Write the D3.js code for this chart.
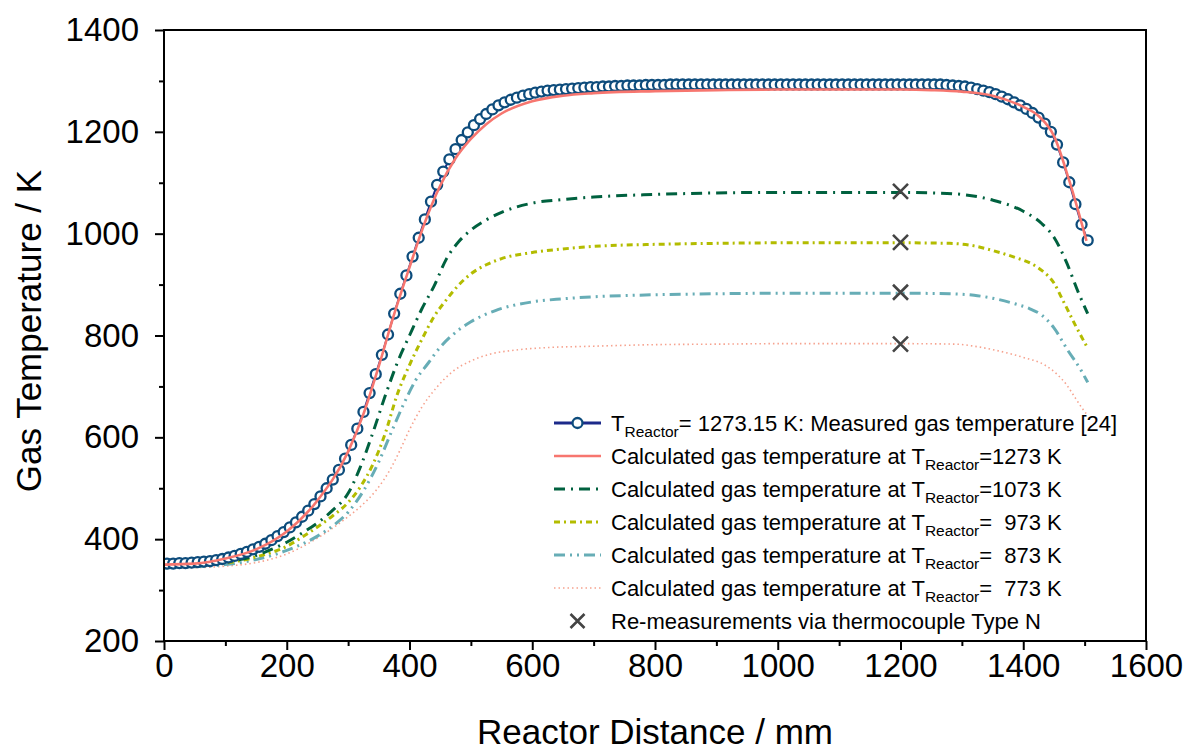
<!DOCTYPE html>
<html>
<head>
<meta charset="utf-8">
<script src="https://cdn.jsdelivr.net/npm/d3@7"></script>
<style>
  html, body { margin: 0; padding: 0; background: #fff; }
  svg text { font-family: "Liberation Sans", Arial, Helvetica, sans-serif; white-space: pre; }
</style>
</head>
<body>
<svg id="chart" width="1187" height="751"></svg>
<script>
// Measured gas temperature (T_Reactor = 1273.15 K), distance in mm
const measuredX = [5,15,25,35,45,55,65,75,85,95,105,115,125,135,145,155,165,175,185,195,
  205,215,225,235,245,255,265,275,285,295,305,315,325,335,345,355,365,375,385,395,
  405,415,425,435,445,455,465,475,485,495,505,515,525,535,545,555,565,575,585,595,
  605,615,625,635,645,655,665,675,685,695,705,715,725,735,745,755,765,775,785,795,
  805,815,825,835,845,855,865,875,885,895,905,915,925,935,945,955,965,975,985,995,
  1005,1015,1025,1035,1045,1055,1065,1075,1085,1095,1105,1115,1125,1135,1145,1155,1165,1175,1185,1195,
  1205,1215,1225,1235,1245,1255,1265,1275,1285,1295,1305,1315,1325,1335,1345,1355,1365,1375,1385,1395,
  1405,1415,1425,1435,1445,1455,1465,1475,1485,1495,1505];
const measuredT = [352,352,353,353,354,355,356,357,359,361,364,367,371,375,380,385,391,398,406,414,
  423,433,444,456,469,484,500,517,536,558,585,617,650,687,724,762,802,843,882,918,
  955,992,1028,1063,1096,1122,1146,1166,1184,1199,1213,1225,1235,1244,1252,1258,1263,1267,1271,1274,
  1277,1279,1281,1282,1283,1284,1285,1286,1287,1288,1288,1289,1289,1290,1290,1291,1291,1291,1292,1292,
  1292,1292,1293,1293,1293,1293,1293,1293,1293,1293,1293,1293,1293,1293,1293,1293,1293,1293,1293,1293,
  1293,1293,1293,1293,1293,1293,1293,1293,1293,1293,1293,1293,1293,1293,1293,1293,1293,1293,1293,1293,
  1293,1293,1293,1293,1293,1293,1293,1292,1291,1290,1289,1287,1284,1281,1278,1274,1269,1264,1258,1252,
  1245,1237,1228,1216,1200,1175,1140,1101,1058,1018,987];

// Calculated gas temperature, T_Reactor = 1273 K
const calc1273X = [0,50,100,150,200,250,300,325,350,375,400,425,450,475,500,525,550,600,650,700,800,900,1000,1100,1200,1250,1300,1350,1400,1425,1450,1475,1503];
const calc1273T = [350,352,362,380,415,476,572,646,740,842,934,1022,1094,1148,1186,1215,1236,1260,1271,1276,1280,1282,1283,1283,1283,1282,1279,1271,1249,1231,1192,1104,986];

// T_Reactor = 1073 K
const calc1073X = [0,50,100,150,175,200,225,250,275,300,320,340,360,380,400,420,440,460,480,500,525,550,600,650,700,800,900,1000,1100,1200,1250,1300,1350,1400,1430,1450,1470,1490,1505];
const calc1073T = [347,349,355,368,380,394,412,432,457,490,542,608,680,746,800,852,897,950,984,1007,1027,1042,1060,1067,1072,1077,1080,1081,1081,1081,1080,1077,1066,1044,1020,993,945,884,843];

// T_Reactor = 973 K
const calc973X = [0,50,100,150,200,225,250,275,300,320,340,360,380,400,420,440,460,480,500,525,550,600,650,700,800,900,1000,1100,1200,1280,1320,1350,1390,1410,1430,1450,1465,1485,1505];
const calc973T = [346,348,353,365,386,404,424,446,472,503,546,606,684,742,792,837,870,899,921,939,951,963,970,975,979,981,982,982,982,981,976,967,952,943,928,903,868,820,775];

// T_Reactor = 873 K
const calc873X = [0,50,100,150,200,250,275,300,325,350,370,390,410,430,450,470,500,540,600,650,700,800,900,1000,1100,1200,1280,1320,1355,1390,1410,1430,1450,1472,1494,1505];
const calc873T = [344,346,350,360,378,406,426,453,495,552,609,664,712,745,777,801,827,849,866,872,876,880,882,883,883,883,882,879,872,861,853,840,815,772,732,708];

// T_Reactor = 773 K
const calc773X = [0,50,100,150,200,250,290,320,345,370,385,400,420,445,470,500,530,570,620,700,800,900,1000,1100,1200,1290,1320,1355,1400,1435,1455,1470,1485,1496,1505];
const calc773T = [343,344,347,354,371,402,435,464,495,540,576,615,659,699,729,750,763,771,776,779,782,783,784,784,784,783,779,771,757,742,724,704,677,657,643];

// Re-measurements with thermocouple type N
const remeasureX = [1200,1200,1200,1200];
const remeasureT = [1083,983,885,783];

// Axis ticks
const xTicks = [0,200,400,600,800,1000,1200,1400,1600];
const xMinorTicks = [100,300,500,700,900,1100,1300,1500];
const yTicks = [200,400,600,800,1000,1200,1400];
const yMinorTicks = [300,500,700,900,1100,1300];

const legendLabels = [
  ["T", "Reactor", "= 1273.15 K: Measured gas temperature [24]"],
  ["Calculated gas temperature at T", "Reactor", "=1273 K"],
  ["Calculated gas temperature at T", "Reactor", "=1073 K"],
  ["Calculated gas temperature at T", "Reactor", "=  973 K"],
  ["Calculated gas temperature at T", "Reactor", "=  873 K"],
  ["Calculated gas temperature at T", "Reactor", "=  773 K"],
  ["Re-measurements via thermocouple Type N", "", ""]
];

const plot = { left: 164, top: 30, right: 1146, bottom: 641 };
const svg = d3.select("#chart");

const x = d3.scaleLinear().domain([0, 1600]).range([plot.left, plot.right]);
const y = d3.scaleLinear().domain([200, 1400]).range([plot.bottom, plot.top]);

const zip = (xs, ys) => xs.map((v, i) => [v, ys[i]]);

// Series styles
const styles = {
  measuredLine: { color: "#1c2a8a", width: 2 },
  circle: { color: "#0d4c7c" },
  c1273: { color: "#f7766f", width: 2.6, dash: null },
  c1073: { color: "#00613f", width: 3, dash: "11,6,2,6" },
  c973:  { color: "#b3bc00", width: 3, dash: "6,4,2,4" },
  c873:  { color: "#67adb6", width: 3, dash: "11,5,2,5,2,5" },
  c773:  { color: "#f6a28e", width: 1.6, dash: "1.5,3" },
  cross: { color: "#444444" }
};

const clipId = "plotclip";
svg.append("defs").append("clipPath").attr("id", clipId)
  .append("rect").attr("x", plot.left).attr("y", plot.top)
  .attr("width", plot.right - plot.left).attr("height", plot.bottom - plot.top);

const g = svg.append("g").attr("clip-path", `url(#${clipId})`);

const smooth = d3.line().x(d => x(d[0])).y(d => y(d[1])).curve(d3.curveMonotoneX);
const straight = d3.line().x(d => x(d[0])).y(d => y(d[1]));

function drawCalc(xs, ys, st) {
  g.append("path").datum(zip(xs, ys))
    .attr("d", smooth)
    .attr("fill", "none")
    .attr("stroke", st.color)
    .attr("stroke-width", st.width)
    .attr("stroke-dasharray", st.dash)
    .attr("stroke-linejoin", "round");
}

drawCalc(calc773X, calc773T, styles.c773);
drawCalc(calc873X, calc873T, styles.c873);
drawCalc(calc973X, calc973T, styles.c973);
drawCalc(calc1073X, calc1073T, styles.c1073);

// Measured series: connecting line, open circles
const measured = zip(measuredX, measuredT);
g.append("path").datum(measured)
  .attr("d", straight)
  .attr("fill", "none")
  .attr("stroke", styles.measuredLine.color)
  .attr("stroke-width", styles.measuredLine.width);

g.selectAll("circle.meas").data(measured).enter().append("circle")
  .attr("class", "meas")
  .attr("cx", d => x(d[0]))
  .attr("cy", d => y(d[1]))
  .attr("r", 5)
  .attr("fill", "#fff")
  .attr("stroke", styles.circle.color)
  .attr("stroke-width", 2.3);

drawCalc(calc1273X, calc1273T, styles.c1273);

// Thermocouple re-measurements
function cross(sel, cx, cy, s) {
  sel.append("path")
    .attr("d", `M${cx - s},${cy - s}L${cx + s},${cy + s}M${cx - s},${cy + s}L${cx + s},${cy - s}`)
    .attr("stroke", styles.cross.color)
    .attr("stroke-width", 2.6)
    .attr("fill", "none");
}
zip(remeasureX, remeasureT).forEach(d => cross(g, x(d[0]), y(d[1]), 7.5));

// Frame
svg.append("rect")
  .attr("x", plot.left).attr("y", plot.top)
  .attr("width", plot.right - plot.left).attr("height", plot.bottom - plot.top)
  .attr("fill", "none").attr("stroke", "#000").attr("stroke-width", 2);

// Axes
const tickFont = 33;
svg.append("g").attr("transform", `translate(0,${plot.bottom})`)
  .call(d3.axisBottom(x).tickValues(xTicks).tickSize(9).tickPadding(4).tickFormat(d3.format("d")));
svg.append("g").attr("transform", `translate(0,${plot.bottom})`)
  .call(d3.axisBottom(x).tickValues(xMinorTicks).tickSize(5).tickFormat(""));
svg.append("g").attr("transform", `translate(${plot.left},0)`)
  .call(d3.axisLeft(y).tickValues(yTicks).tickSize(9).tickPadding(16).tickFormat(d3.format("d")));
svg.append("g").attr("transform", `translate(${plot.left},0)`)
  .call(d3.axisLeft(y).tickValues(yMinorTicks).tickSize(5).tickFormat(""));

svg.selectAll(".domain").remove();
svg.selectAll(".tick line").attr("stroke", "#000").attr("stroke-width", 2);
svg.selectAll(".tick text")
  .attr("fill", "#000")
  .style("font-size", tickFont + "px")
  .style("font-family", "'Liberation Sans', Arial, sans-serif");

// Axis titles
svg.append("text")
  .attr("x", 655)
  .attr("y", 744)
  .attr("text-anchor", "middle")
  .style("font-size", "35px")
  .text("Reactor Distance / mm");

svg.append("text")
  .attr("transform", `translate(41,331) rotate(-90)`)
  .attr("text-anchor", "middle")
  .style("font-size", "35px")
  .text("Gas Temperature / K");

// Legend
const legend = svg.append("g");
const lgX0 = 554, lgX1 = 601, lgText = 611, lgY0 = 423, lgDy = 33;
const legendStyles = [null, styles.c1273, styles.c1073, styles.c973, styles.c873, styles.c773, null];

legendLabels.forEach((lab, i) => {
  const cy = lgY0 + i * lgDy;
  if (i === 0) {
    legend.append("line").attr("x1", lgX0).attr("x2", lgX1).attr("y1", cy).attr("y2", cy)
      .attr("stroke", styles.measuredLine.color).attr("stroke-width", 3);
    legend.append("circle").attr("cx", (lgX0 + lgX1) / 2).attr("cy", cy).attr("r", 5)
      .attr("fill", "#fff").attr("stroke", styles.circle.color).attr("stroke-width", 2.3);
  } else if (i === 6) {
    cross(legend, (lgX0 + lgX1) / 2, cy, 7);
  } else {
    const st = legendStyles[i];
    legend.append("line").attr("x1", lgX0).attr("x2", lgX1).attr("y1", cy).attr("y2", cy)
      .attr("stroke", st.color).attr("stroke-width", st.width)
      .attr("stroke-dasharray", st.dash);
  }
  const t = legend.append("text").attr("x", lgText).attr("y", cy + 8).style("font-size", "22px");
  t.append("tspan").text(lab[0]);
  if (lab[1]) {
    t.append("tspan").attr("dy", 6).style("font-size", "15.5px").text(lab[1]);
    t.append("tspan").attr("dy", -6).text(lab[2]);
  }
});
</script>
</body>
</html>
